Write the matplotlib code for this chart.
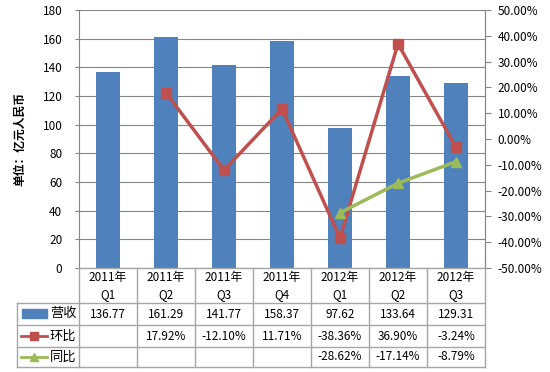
import matplotlib
matplotlib.use("Agg")
import matplotlib.pyplot as plt
import numpy as np

plt.rcParams['font.family'] = ['Noto Sans CJK SC', 'DejaVu Sans']

# data
quarters = ["2011年\nQ1", "2011年\nQ2", "2011年\nQ3", "2011年\nQ4",
            "2012年\nQ1", "2012年\nQ2", "2012年\nQ3"]
revenue = [136.77, 161.29, 141.77, 158.37, 97.62, 133.64, 129.31]
qoq = [None, 17.92, -12.10, 11.71, -38.36, 36.90, -3.24]   # 环比 %
yoy = [None, None, None, None, -28.62, -17.14, -8.79]      # 同比 %

blue = "#4F81BD"
red = "#C0504D"
green = "#9BBB59"
gridc = "#868686"
tablec = "#A6A6A6"

fig = plt.figure(figsize=(5.5, 3.72), dpi=100)
W, H = 550, 372
x0, x1, ytop, ybot = 79, 485, 10, 268
ax = fig.add_axes([x0 / W, 1 - ybot / H, (x1 - x0) / W, (ybot - ytop) / H])
x = np.arange(len(quarters))

ax.bar(x, revenue, width=0.4, color=blue, zorder=2)
ax.set_xlim(-0.5, len(quarters) - 0.5)
ax.set_ylim(0, 180)
ax.set_yticks(np.arange(0, 181, 20))
ax.yaxis.grid(True, color=gridc, linewidth=0.8, zorder=0)
ax.set_xticks([])
ax.tick_params(axis="y", labelsize=8.5, length=3, color=gridc, pad=9)
for s in ["top", "bottom"]:
    ax.spines[s].set_visible(False)
for s in ["left", "right"]:
    ax.spines[s].set_color(gridc)
ax.set_ylabel("单位：亿元人民币", fontsize=8.5, fontweight="bold", labelpad=12)

ax2 = ax.twinx()
ax2.set_ylim(-50, 50)
ax2.set_yticks(np.arange(-50, 51, 10))
ax2.set_yticklabels([f"{v:.2f}%" for v in np.arange(-50, 51, 10)])
ax2.tick_params(axis="y", labelsize=8.5, length=4, color=gridc, pad=5)
for s in ["top", "bottom", "left"]:
    ax2.spines[s].set_visible(False)
ax2.spines["right"].set_color(gridc)

qx = [i for i, v in enumerate(qoq) if v is not None]
qv = [v for v in qoq if v is not None]
yx = [i for i, v in enumerate(yoy) if v is not None]
yv = [v for v in yoy if v is not None]
ax2.plot(qx, qv, color=red, linewidth=2.5, marker="s", markersize=7.5, zorder=3)
ax2.plot(yx, yv, color=green, linewidth=2.5, marker="^", markersize=7.5, zorder=3)

# data table below the plot
ft = fig.transFigure
def fy(py):
    return 1 - py / H
def fx(px):
    return px / W

lk = dict(color=tablec, linewidth=1.0, clip_on=False)
fig.add_artist(plt.Line2D([fx(x0), fx(x1)], [fy(268), fy(268)], transform=ft, **lk))
for py in [303, 325, 347, 367]:
    fig.add_artist(plt.Line2D([fx(17), fx(x1)], [fy(py), fy(py)], transform=ft, **lk))
for i in range(len(quarters) + 1):
    px = x0 + (x1 - x0) * i / len(quarters)
    fig.add_artist(plt.Line2D([fx(px), fx(px)], [fy(268), fy(367)], transform=ft, **lk))
fig.add_artist(plt.Line2D([fx(17), fx(17)], [fy(303), fy(367)], transform=ft, **lk))

rows_mid = [(303 + 325) / 2, (325 + 347) / 2, (347 + 367) / 2]
for i, q in enumerate(quarters):
    cx = fx(x0 + (x1 - x0) * (i + 0.5) / len(quarters))
    fig.text(cx, fy(286), q, ha="center", va="center", fontsize=8.5, linespacing=1.45)
    fig.text(cx, fy(rows_mid[0]), f"{revenue[i]:.2f}", ha="center", va="center",
             fontsize=8.5)
    if qoq[i] is not None:
        fig.text(cx, fy(rows_mid[1]), f"{qoq[i]:.2f}%", ha="center", va="center",
                 fontsize=8.5)
    if yoy[i] is not None:
        fig.text(cx, fy(rows_mid[2]), f"{yoy[i]:.2f}%", ha="center", va="center",
                 fontsize=8.5)

# legend keys
fig.add_artist(plt.Rectangle((fx(22), fy(318)), fx(47) - fx(22), fy(309) - fy(318),
                             transform=ft, color=blue))
fig.add_artist(plt.Line2D([fx(21), fx(47)], [fy(rows_mid[1])] * 2, transform=ft,
                          color=red, linewidth=2))
fig.add_artist(plt.Line2D([fx(34)], [fy(rows_mid[1])], transform=ft, color=red,
                          marker="s", markersize=6))
fig.add_artist(plt.Line2D([fx(21), fx(47)], [fy(rows_mid[2])] * 2, transform=ft,
                          color=green, linewidth=2))
fig.add_artist(plt.Line2D([fx(34)], [fy(rows_mid[2])], transform=ft, color=green,
                          marker="^", markersize=6))
for lab, py in zip(["营收", "环比", "同比"], rows_mid):
    fig.text(fx(50), fy(py), lab, ha="left", va="center", fontsize=9.5)

fig.savefig("out.png", dpi=100)
